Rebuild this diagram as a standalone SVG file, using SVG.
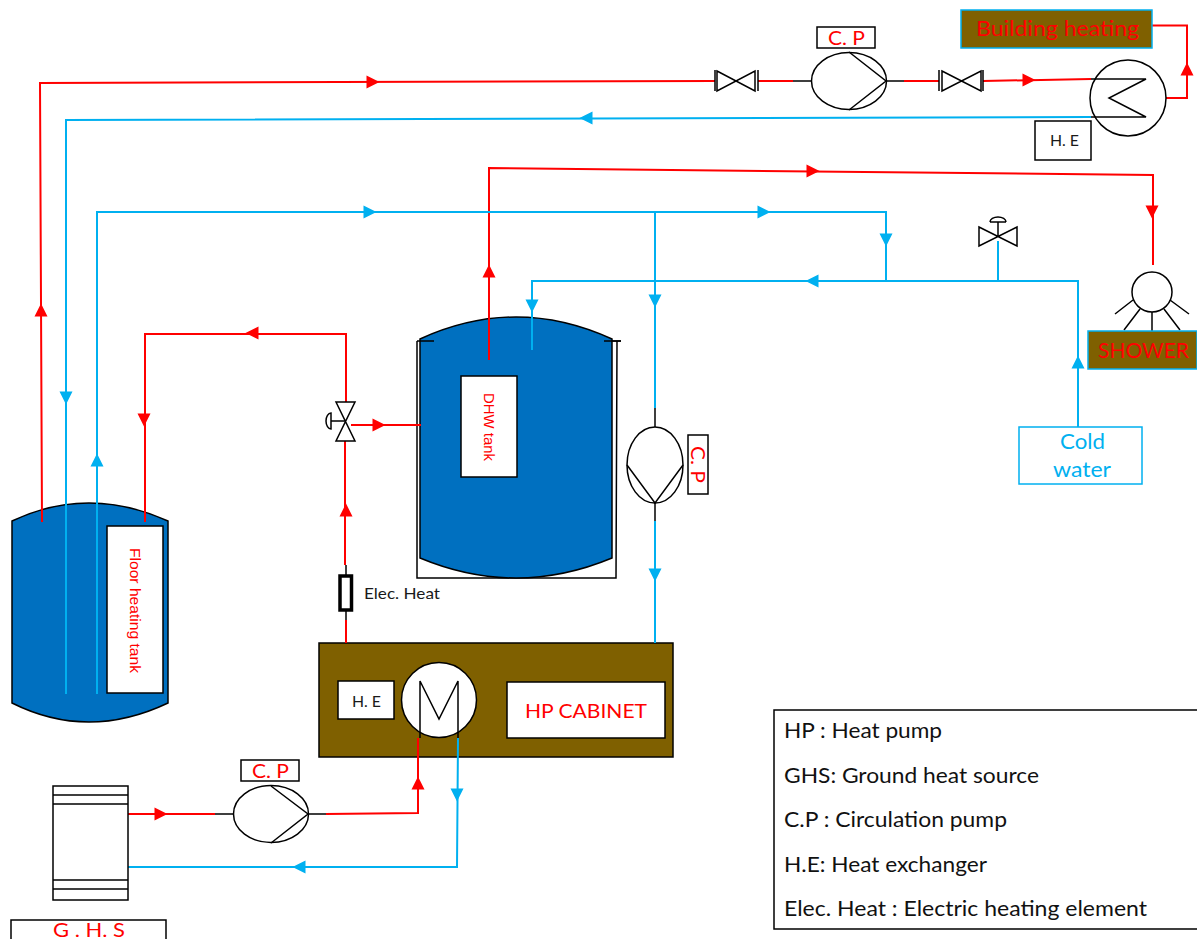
<svg xmlns="http://www.w3.org/2000/svg" width="1197" height="939" viewBox="0 0 1197 939">
<style>
text{font-family:Lato,"Open Sans","Liberation Sans",sans-serif}
.r{fill:none;stroke:#ff0000;stroke-width:2}
.b{fill:none;stroke:#00b0f0;stroke-width:2}
.k{fill:none;stroke:#000;stroke-width:1.5}
.box{fill:#fff;stroke:#000;stroke-width:1.5}
.sym{fill:#fff;stroke:#000;stroke-width:1.5}
.tank{fill:#0070c0;stroke:#000;stroke-width:1.5}
.brown{fill:#7f6000;stroke:#00b0f0;stroke-width:1.5}
.red{fill:#ff0000}
.blk{fill:#1a1a1a}
.af{fill:#ff0000}
.ab{fill:#00b0f0}
.leg{font-size:21px;fill:#111}
.sans{font-family:"Liberation Sans",Arial,sans-serif}
</style>
<defs>
<path id="tri" d="M-6.500 0L6.500 -6.500V6.500Z" transform="rotate(180)"/>
</defs>
<g id="floor-tank">
<path class="tank" d="M12 521Q88 485 168 521V703Q88 741 12 703Z"/>
<rect class="box" x="107" y="526" width="56" height="167"/>
<text class="red sans" transform="translate(130 548) rotate(90)" font-size="14" textLength="125" lengthAdjust="spacingAndGlyphs">Floor heating tank</text>
</g>
<g id="dhw-tank">
<path class="k" d="M417 341V578H616L617 341M417 341H434M604 341H621"/>
<path class="tank" d="M420 339Q516 295 612 339V558Q516 598 420 558Z"/>
<path class="k" d="M420 341H434M604 341H621"/>
<rect class="box" x="461" y="376" width="56" height="101"/>
<text class="red sans" transform="translate(484 393) rotate(90)" font-size="14" textLength="68" lengthAdjust="spacingAndGlyphs">DHW tank</text>
</g>
<g id="hp-cabinet">
<rect x="319" y="643" width="354" height="114" fill="#7f6000" stroke="#000" stroke-width="1.500"/>
<rect class="box" x="338" y="681" width="56" height="38"/>
<text class="blk" x="352" y="707" font-size="15" textLength="29" lengthAdjust="spacingAndGlyphs">H. E</text>
<rect class="box" x="507" y="682" width="158" height="56"/>
<text class="red" x="525" y="718" font-size="20" textLength="122" lengthAdjust="spacingAndGlyphs">HP CABINET</text>
<circle class="sym" cx="439" cy="700" r="37.500"/>
<path class="k" d="M420 738V681L439 719L458 681V738"/>
</g>
<g id="connectors">
<path class="r" d="M42 522L40 83L715 81M758 81H793M904 81H939M983 81L1091 79"/>
<path class="b" d="M1091 117L66 120V694"/>
<path class="r" d="M1152 25.500H1187V98H1165"/>
<path class="r" d="M489 360V168L1153 175V265"/>
<path class="b" d="M998 241V281M1078 427V281H532V350"/>
<path class="b" d="M97 694V212H886V281M655 212V408M655 521V643"/>
<path class="r" d="M346 402V334H145V522M351 425H421M345 441V565M346 620V643"/>
<path class="r" d="M128 814H215M326 814L418 813V738"/>
<path class="b" d="M458 738L457 867H128"/>
<g class="af">
<use href="#tri" transform="translate(41 310) rotate(-90)"/>
<use href="#tri" transform="translate(373 82)"/>
<use href="#tri" transform="translate(1029 80)"/>
<use href="#tri" transform="translate(1187 69) rotate(-90)"/>
<use href="#tri" transform="translate(489 271) rotate(-90)"/>
<use href="#tri" transform="translate(813 171)"/>
<use href="#tri" transform="translate(1152 212) rotate(90)"/>
<use href="#tri" transform="translate(252 333) rotate(180)"/>
<use href="#tri" transform="translate(144 420) rotate(90)"/>
<use href="#tri" transform="translate(379 425)"/>
<use href="#tri" transform="translate(346 510) rotate(-90)"/>
<use href="#tri" transform="translate(161 814)"/>
<use href="#tri" transform="translate(418 783) rotate(-90)"/>
</g>
<g class="ab">
<use href="#tri" transform="translate(586 118) rotate(180)"/>
<use href="#tri" transform="translate(66 398) rotate(90)"/>
<use href="#tri" transform="translate(97 460) rotate(-90)"/>
<use href="#tri" transform="translate(370 212)"/>
<use href="#tri" transform="translate(764 212)"/>
<use href="#tri" transform="translate(886 240) rotate(90)"/>
<use href="#tri" transform="translate(812 281) rotate(180)"/>
<use href="#tri" transform="translate(1078 362) rotate(-90)"/>
<use href="#tri" transform="translate(532 306) rotate(90)"/>
<use href="#tri" transform="translate(655 301) rotate(90)"/>
<use href="#tri" transform="translate(655 575) rotate(90)"/>
<use href="#tri" transform="translate(457 795) rotate(90)"/>
<use href="#tri" transform="translate(299 867) rotate(180)"/>
</g>
<path class="k" d="M793 81H811M886 81H904M655 408V427M655 503V521M215 814H233M308 814H326M346 565V575M346 611V620"/>
</g>
<g id="valve-1">
<path class="k" d="M717 71L755 91V71L717 91ZM715 70V91M758 70V91"/>
</g>
<g id="pump-top">
<ellipse class="sym" cx="849" cy="81" rx="37.500" ry="28.500"/>
<path class="k" d="M849 52L886 81L849 110"/>
<rect class="box" x="817" y="27" width="58" height="21"/>
<text class="red" x="828" y="45" font-size="20" textLength="37" lengthAdjust="spacingAndGlyphs">C. P</text>
</g>
<g id="valve-2">
<path class="k" d="M942 71L981 91V71L942 91ZM939 70V91M983 70V91"/>
</g>
<g id="building-heating">
<rect class="brown" x="961" y="10" width="191" height="38"/>
<text class="red" x="976" y="36" font-size="21" textLength="163" lengthAdjust="spacingAndGlyphs">Building heating</text>
</g>
<g id="he-top">
<circle class="sym" cx="1128" cy="98" r="38"/>
<path class="k" d="M1091 79H1146L1109 98L1146 117H1091"/>
<rect class="box" x="1035" y="121" width="56" height="39"/>
<text class="blk" x="1050" y="146" font-size="15" textLength="29" lengthAdjust="spacingAndGlyphs">H. E</text>
</g>
<g id="valve-shower">
<path class="k" d="M979 227L1017 246V227L979 246ZM998 236V222M990 222H1006M990 222A8 5 0 0 1 1006 222"/>
</g>
<g id="shower">
<circle class="sym" cx="1152" cy="292" r="20"/>
<path class="k" d="M1133 300L1115 314M1140 309L1124 330M1152 312V331M1164 309L1180 330M1170 300L1189 314"/>
<rect class="brown" x="1088" y="331" width="109" height="38"/>
<text class="red" x="1098" y="358" font-size="21" textLength="91" lengthAdjust="spacingAndGlyphs">SHOWER</text>
</g>
<g id="cold-water">
<rect x="1019" y="427" width="123" height="57" fill="#fff" stroke="#00b0f0" stroke-width="1.500"/>
<text x="1060" y="449" font-size="21" fill="#00b0f0" textLength="45" lengthAdjust="spacingAndGlyphs">Cold</text>
<text x="1053" y="477" font-size="21" fill="#00b0f0" textLength="58" lengthAdjust="spacingAndGlyphs">water</text>
</g>
<g id="three-way-valve">
<path class="sym" d="M336 402H355L336 441H355Z"/>
<path class="k" d="M345 421H331M331 413A5 8 0 0 0 331 429Z"/>
</g>
<g id="pump-right">
<ellipse class="sym" cx="655" cy="465" rx="28" ry="38"/>
<path class="k" d="M627 465L655 503L683 465"/>
<rect class="box" x="688" y="435" width="20" height="59"/>
<text class="red" transform="translate(691 446) rotate(90)" font-size="20" textLength="37" lengthAdjust="spacingAndGlyphs">C. P</text>
</g>
<g id="elec-heat">
<rect x="340" y="576" width="11.500" height="34" fill="#fff" stroke="#000" stroke-width="3.500"/>
<text class="blk" x="364" y="599" font-size="15" textLength="76" lengthAdjust="spacingAndGlyphs">Elec. Heat</text>
</g>
<g id="pump-bottom">
<ellipse class="sym" cx="271" cy="814" rx="37.500" ry="28.500"/>
<path class="k" d="M271 786L308 814L271 843"/>
<rect class="box" x="241" y="760" width="58" height="21"/>
<text class="red" x="252" y="778" font-size="20" textLength="37" lengthAdjust="spacingAndGlyphs">C. P</text>
</g>
<g id="ghs">
<rect class="box" x="53" y="786" width="75" height="114"/>
<path class="k" d="M53 795H128M53 804H128M53 880H128M53 889H128"/>
<path d="M11 939V920H166V939" fill="none" stroke="#000" stroke-width="1.500"/>
<text class="red" x="53" y="937" font-size="20" textLength="72" lengthAdjust="spacingAndGlyphs">G . H. S</text>
</g>
<g id="legend">
<path d="M1197 710H774V929H1197" fill="#fff" stroke="#000" stroke-width="1.500"/>
<text class="leg" x="784" y="738" textLength="158" lengthAdjust="spacingAndGlyphs">HP : Heat pump</text>
<text class="leg" x="784" y="783" textLength="255" lengthAdjust="spacingAndGlyphs">GHS: Ground heat source</text>
<text class="leg" x="784" y="827" textLength="223" lengthAdjust="spacingAndGlyphs">C.P : Circulation pump</text>
<text class="leg" x="784" y="872" textLength="203" lengthAdjust="spacingAndGlyphs">H.E: Heat exchanger</text>
<text class="leg" x="784" y="916" textLength="363" lengthAdjust="spacingAndGlyphs">Elec. Heat : Electric heating element</text>
</g>
</svg>
